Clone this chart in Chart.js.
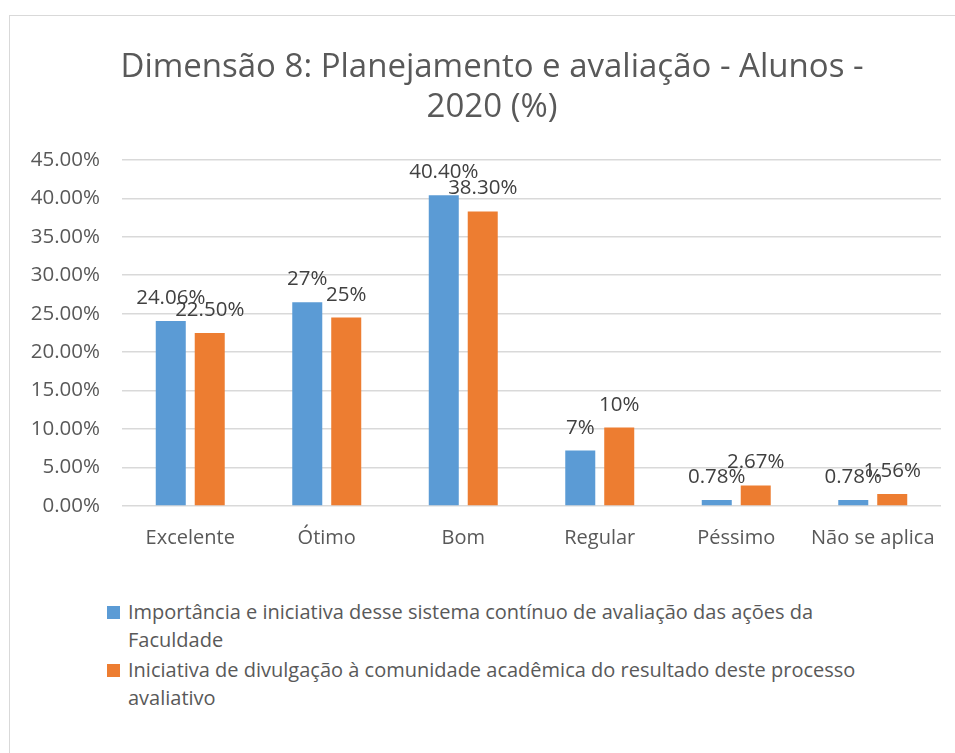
<!DOCTYPE html>
<html>
<head>
<meta charset="utf-8">
<script src="https://cdn.jsdelivr.net/npm/chart.js@4.4.1/dist/chart.umd.min.js"></script>
<style>
  html, body { margin: 0; padding: 0; background: #fff; overflow: hidden; }
  body { width: 955px; height: 753px; position: relative; font-family: "Open Sans", sans-serif; }
  .chartBox { position: absolute; left: 9px; top: 15px; width: 1000px; height: 800px;
    border-left: 1.5px solid #d9d9d9; border-top: 1.5px solid #d9d9d9; }
  .chartBox canvas { position: absolute; left: 0; top: 0; }
  .legendBox { position: absolute; left: 97px; top: 582px; width: 762px; color: #595959;
    font-size: 20px; line-height: 28px; }
  .legendItem { position: relative; padding-left: 21px; margin-bottom: 2px; }
  .legendItem span.sw { position: absolute; left: 0; top: 8px; width: 13px; height: 13px; }
</style>
</head>
<body>
<div class="chartBox">
  <canvas id="dim8" width="946" height="540"></canvas>
  <div class="legendBox" id="legend"></div>
</div>
<script>
// categories and values (%)
var categories = ["Excelente", "Ótimo", "Bom", "Regular", "Péssimo", "Não se aplica"];
var importancia = [24.06, 26.5, 40.4, 7.2, 0.78, 0.78];
var divulgacao = [22.5, 24.5, 38.3, 10.2, 2.67, 1.56];
// data label texts as printed on the chart
var importanciaLabels = ["24.06%", "27%", "40.40%", "7%", "0.78%", "0.78%"];
var divulgacaoLabels = ["22.50%", "25%", "38.30%", "10%", "2.67%", "1.56%"];
var seriesNames = [
  "Importância e iniciativa desse sistema contínuo de avaliação das ações da Faculdade",
  "Iniciativa de divulgação à comunidade acadêmica do resultado deste processo avaliativo"
];
var yTicks = [0, 5, 10, 15, 20, 25, 30, 35, 40, 45];

var blue = "#5B9BD5";
var orange = "#ED7D31";
var textColor = "#595959";

// draws the value text above every bar
var barLabels = {
  id: "barLabels",
  afterDatasetsDraw: function (chart) {
    var ctx = chart.ctx;
    ctx.save();
    ctx.font = "20.5px 'Open Sans'";
    ctx.fillStyle = "#404040";
    ctx.textAlign = "center";
    ctx.textBaseline = "alphabetic";
    chart.data.datasets.forEach(function (ds, i) {
      var meta = chart.getDatasetMeta(i);
      meta.data.forEach(function (bar, j) {
        ctx.fillText(ds.valueLabels[j], bar.x, bar.y - 17);
      });
    });
    ctx.restore();
  },
};

// title sits a bit right of the plot centre, like the original
var titleShift = {
  id: "titleShift",
  afterLayout: function (chart) {
    if (chart.titleBlock) {
      chart.titleBlock.left += 33;
    }
  },
};

var dim8_ctx = document.getElementById("dim8").getContext("2d");

var dim8 = new Chart(dim8_ctx, {
  type: "bar",
  data: {
    labels: categories,
    datasets: [
      {
        label: seriesNames[0],
        data: importancia,
        valueLabels: importanciaLabels,
        backgroundColor: blue,
        categoryPercentage: 0.571,
        barPercentage: 0.77,
      },
      {
        label: seriesNames[1],
        data: divulgacao,
        valueLabels: divulgacaoLabels,
        backgroundColor: orange,
        categoryPercentage: 0.571,
        barPercentage: 0.77,
      },
    ],
  },
  options: {
    responsive: false,
    animation: false,
    layout: {
      padding: { left: 0, right: 15, top: 0, bottom: 0 },
    },
    plugins: {
      tooltip: { enabled: false },
      legend: { display: false },
      title: {
        display: true,
        text: ["Dimensão 8: Planejamento e avaliação - Alunos -", "2020 (%)"],
        color: textColor,
        font: { family: "'Open Sans'", size: 33, weight: "normal", lineHeight: 1.21 },
        padding: { top: 32, bottom: 32 },
      },
    },
    scales: {
      x: {
        grid: { display: false },
        border: { display: false },
        ticks: {
          color: textColor,
          font: { family: "'Open Sans'", size: 20 },
          padding: 12,
          maxRotation: 0,
          autoSkip: false,
        },
        afterFit: function (scale) {
          scale.height = 50;
        },
      },
      y: {
        min: 0,
        max: 45,
        afterBuildTicks: function (scale) {
          scale.ticks = yTicks.map(function (v) { return { value: v }; });
        },
        grid: { color: "#d9d9d9", lineWidth: 1.5, drawTicks: false },
        border: { display: false },
        ticks: {
          color: textColor,
          font: { family: "'Open Sans'", size: 20.5 },
          padding: 22,
          callback: function (value) {
            return value.toFixed(2) + "%";
          },
        },
        afterFit: function (scale) {
          scale.width = 112;
        },
      },
    },
  },
  plugins: [barLabels, titleShift],
});

// legend js
var legendHtml = "";
dim8.data.datasets.forEach(function (ds) {
  legendHtml += '<div class="legendItem"><span class="sw" style="background:' + ds.backgroundColor + '"></span>' + ds.label + "</div>";
});
document.getElementById("legend").innerHTML = legendHtml;
</script>
</body>
</html>
